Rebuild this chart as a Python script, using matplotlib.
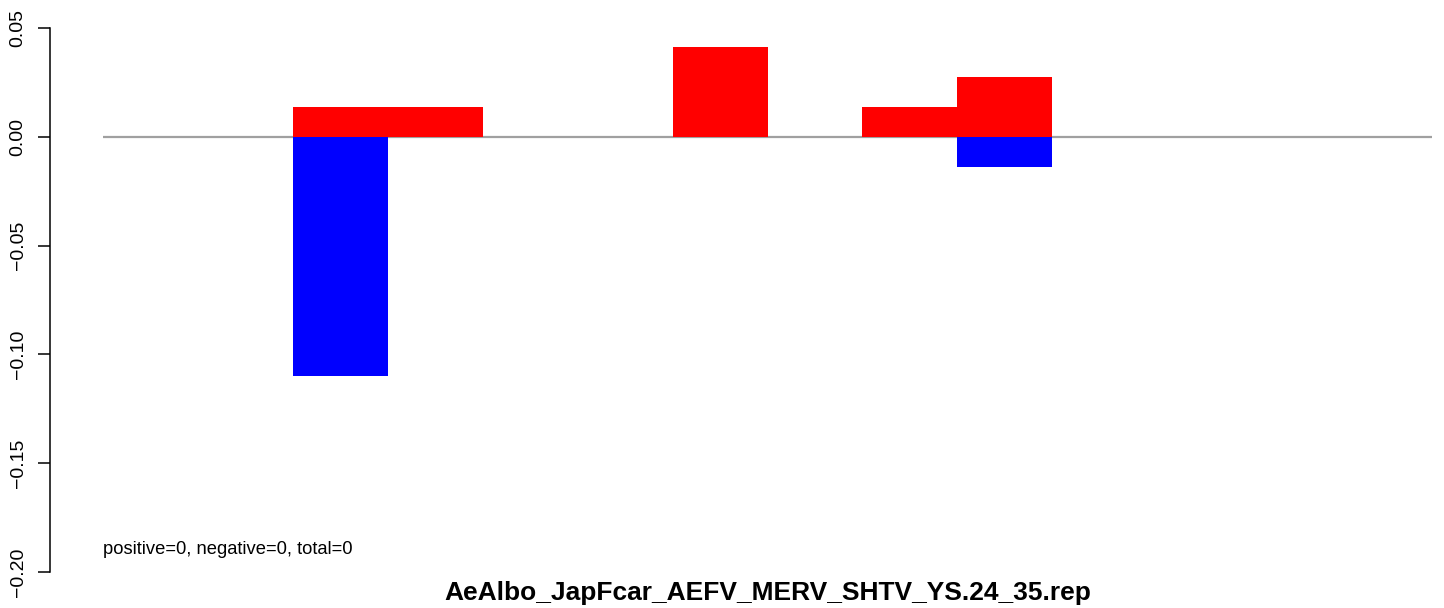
import numpy as np
from matplotlib import pyplot as plt

plt.rcParams['font.family'] = ['Liberation Sans', 'DejaVu Sans']

# one value per bin (14 bins)
bins = np.arange(14)
positive = [0, 0, 0.0138, 0.0138, 0, 0, 0.0414, 0, 0.0138, 0.0276, 0, 0, 0, 0]
negative = [0, 0, -0.110, 0, 0, 0, 0, 0, 0, -0.0138, 0, 0, 0, 0]
yticks = [-0.20, -0.15, -0.10, -0.05, 0.00, 0.05]
note = "positive=0, negative=0, total=0"
title = "AeAlbo_JapFcar_AEFV_MERV_SHTV_YS.24_35.rep"

fig = plt.figure(figsize=(14.44, 6.08), dpi=100)
W, H = 1444, 608
ax = fig.add_axes([103 / W, (H - 590) / H, 1329 / W, 580 / H])

ax.axhline(0, color='#a0a0a0', lw=1.6, zorder=1)
ax.bar(bins, positive, width=1, align='edge', color='#ff0000', linewidth=0, zorder=2)
ax.bar(bins, negative, width=1, align='edge', color='#0000ff', linewidth=0, zorder=2)

ax.set_xlim(0, 14)
ax.set_ylim(-0.20827, 0.05827)

for side in ['top', 'right', 'bottom']:
    ax.spines[side].set_visible(False)
ax.spines['left'].set_position(('outward', 38))
ax.spines['left'].set_bounds(-0.20, 0.05)
ax.spines['left'].set_linewidth(1.1)
ax.set_xticks([])
ax.set_yticks(yticks)
ax.set_yticklabels(['\u22120.20', '\u22120.15', '\u22120.10', '\u22120.05', '0.00', '0.05'],
                   rotation=90, va='center')
ax.tick_params(axis='y', length=9, width=1.1, pad=8, labelsize=14)

ax.text(0, -0.1895, note, fontsize=13.2, ha='left', va='center')
fig.text(767.5 / W, 1 - 593 / H, title, fontsize=19, fontweight='bold',
         ha='center', va='center')

plt.savefig('out.png', dpi=100)
